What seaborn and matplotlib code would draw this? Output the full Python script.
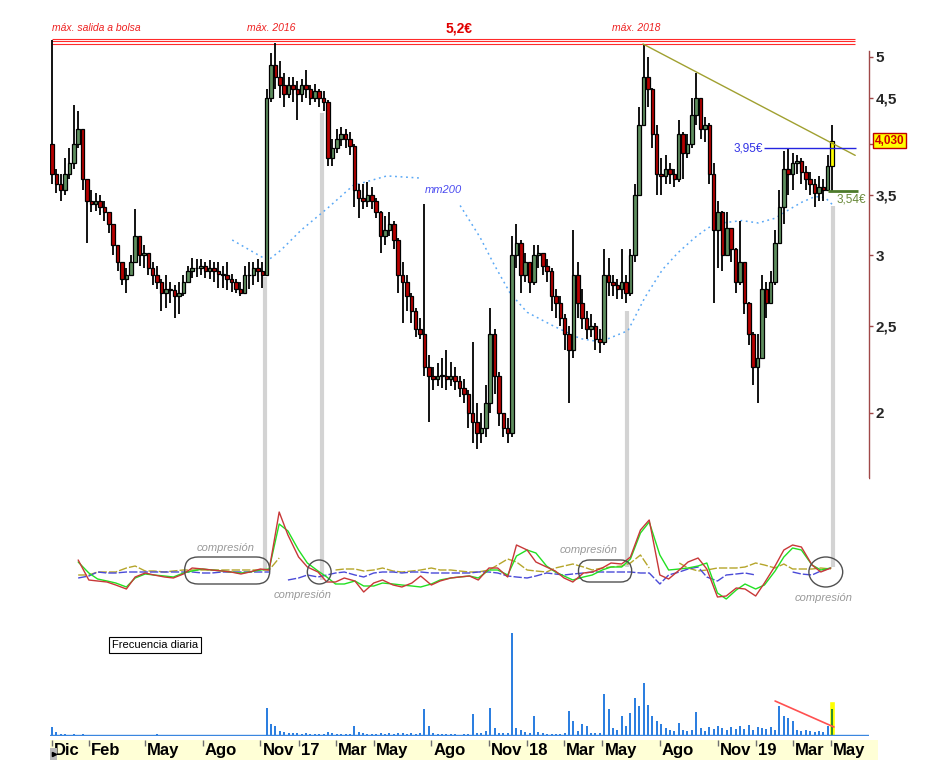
import numpy as np
import pandas as pd
import matplotlib
matplotlib.use("Agg")
import matplotlib.pyplot as plt
import matplotlib.dates as mdates
import matplotlib.transforms as mtransforms
from matplotlib.patches import FancyBboxPatch, Ellipse, Rectangle
from matplotlib.ticker import FixedLocator, FixedFormatter, NullLocator, NullFormatter
import seaborn as sns

sns.set_theme(style="white")
plt.rcParams["font.family"] = ["Liberation Sans", "DejaVu Sans"]

# ---- weekly prices ----
weeks = pd.date_range("2015-12-04", "2019-05-03", freq="W-FRI")
first_open = 4.00
close = [
    3.70, 3.60, 3.55, 3.70, 3.80, 4.00, 4.15, 3.65, 3.45, 3.42,
    3.45, 3.40, 3.35, 3.25, 3.08, 2.95, 2.82, 2.85, 2.95, 3.15,
    3.00, 3.02, 2.90, 2.85, 2.80, 2.72, 2.75, 2.74, 2.70, 2.72,
    2.80, 2.88, 2.90, 2.90, 2.92, 2.88, 2.90, 2.88, 2.86, 2.85,
    2.82, 2.80, 2.75, 2.72, 2.85, 2.85, 2.90, 2.88, 2.85, 4.50,
    4.90, 4.75, 4.65, 4.55, 4.65, 4.60, 4.55, 4.65, 4.60, 4.50,
    4.58, 4.50, 4.45, 3.85, 3.95, 4.05, 4.10, 4.05, 3.98, 3.55,
    3.48, 3.45, 3.50, 3.45, 3.35, 3.15, 3.20, 3.25, 3.12, 2.85,
    2.80, 2.70, 2.60, 2.48, 2.45, 2.25, 2.20, 2.18, 2.20, 2.20,
    2.18, 2.20, 2.17, 2.13, 2.10, 2.00, 1.95, 1.90, 1.92, 2.05,
    2.45, 2.20, 2.00, 1.92, 1.90, 3.00, 3.10, 2.85, 2.95, 2.80,
    3.00, 3.02, 2.92, 2.88, 2.70, 2.65, 2.55, 2.45, 2.35, 2.85,
    2.65, 2.55, 2.48, 2.50, 2.42, 2.40, 2.85, 2.80, 2.78, 2.75,
    2.80, 2.72, 3.00, 3.50, 4.20, 4.75, 4.60, 4.10, 3.70, 3.68,
    3.75, 3.70, 3.65, 4.10, 3.90, 4.00, 4.30, 4.50, 4.15, 4.20,
    3.70, 3.20, 3.35, 3.00, 3.22, 3.05, 2.80, 2.95, 2.65, 2.45,
    2.25, 2.30, 2.75, 2.65, 2.80, 3.10, 3.40, 3.75, 3.70, 3.80,
    3.82, 3.72, 3.65, 3.60, 3.52, 3.58, 3.55, 3.78, 4.03,
]
high = [
    5.22, 3.75, 3.70, 3.85, 3.95, 4.42, 4.35, 4.10, 3.65, 3.55,
    3.52, 3.50, 3.45, 3.35, 3.20, 3.08, 2.95, 2.90, 3.00, 3.38,
    3.10, 3.08, 3.00, 2.95, 2.92, 2.82, 2.85, 2.80, 2.78, 2.80,
    2.85, 2.92, 2.98, 2.97, 2.97, 2.95, 2.96, 2.95, 2.95, 2.92,
    2.95, 2.86, 2.82, 2.80, 2.92, 2.95, 2.95, 2.97, 2.95, 4.60,
    5.05, 5.18, 4.95, 4.80, 4.75, 4.75, 4.70, 4.72, 4.84, 4.65,
    4.66, 4.60, 4.58, 4.48, 4.05, 4.15, 4.17, 4.15, 4.12, 4.00,
    3.60, 3.60, 3.62, 3.58, 3.48, 3.36, 3.32, 3.35, 3.28, 3.14,
    2.95, 2.85, 2.72, 2.62, 2.55, 3.42, 2.32, 2.25, 2.27, 2.30,
    2.35, 2.28, 2.25, 2.20, 2.18, 2.12, 2.40, 2.05, 2.00, 2.15,
    2.62, 2.48, 2.22, 2.00, 1.97, 3.15, 3.25, 3.12, 3.02, 2.95,
    3.08, 3.08, 3.00, 2.97, 2.90, 2.75, 2.70, 2.58, 2.50, 3.20,
    2.95, 2.75, 2.60, 2.58, 2.52, 2.48, 3.05, 2.98, 2.85, 2.82,
    3.05, 2.85, 3.05, 3.60, 4.40, 5.15, 5.00, 4.62, 4.20, 3.85,
    3.88, 3.80, 3.75, 4.25, 4.12, 4.10, 4.50, 4.80, 4.50, 4.28,
    4.22, 3.80, 3.45, 3.36, 3.35, 3.22, 3.06, 3.28, 2.95, 2.66,
    2.46, 2.45, 2.85, 2.80, 2.88, 3.20, 3.55, 3.92, 3.95, 3.90,
    3.88, 3.85, 3.78, 3.72, 3.65, 3.68, 3.65, 3.88, 4.20,
]
low = [
    3.60, 3.52, 3.45, 3.50, 3.65, 3.75, 3.95, 3.55, 3.10, 3.35,
    3.36, 3.33, 3.28, 3.18, 3.00, 2.88, 2.78, 2.72, 2.85, 2.95,
    2.92, 2.90, 2.85, 2.78, 2.75, 2.60, 2.62, 2.65, 2.55, 2.58,
    2.70, 2.80, 2.83, 2.84, 2.85, 2.83, 2.82, 2.80, 2.76, 2.76,
    2.74, 2.73, 2.72, 2.70, 2.72, 2.75, 2.78, 2.80, 2.76, 2.85,
    4.45, 4.60, 4.50, 4.40, 4.50, 4.45, 4.25, 4.45, 4.50, 4.42,
    4.45, 4.40, 4.35, 3.78, 3.78, 3.90, 3.98, 3.95, 3.88, 3.40,
    3.30, 3.38, 3.40, 3.38, 3.30, 3.02, 3.08, 3.15, 3.05, 2.72,
    2.52, 2.60, 2.52, 2.43, 2.42, 2.20, 1.95, 2.12, 2.14, 2.13,
    2.12, 2.14, 2.12, 2.08, 2.05, 1.92, 1.85, 1.82, 1.85, 1.88,
    2.00, 2.10, 1.93, 1.88, 1.85, 1.88, 2.90, 2.72, 2.80, 2.72,
    2.78, 2.90, 2.85, 2.80, 2.60, 2.55, 2.50, 2.35, 2.05, 2.30,
    2.55, 2.48, 2.42, 2.43, 2.35, 2.33, 2.38, 2.70, 2.70, 2.68,
    2.68, 2.65, 2.70, 2.95, 3.50, 4.20, 4.40, 3.95, 3.50, 3.50,
    3.60, 3.60, 3.58, 3.62, 3.65, 3.85, 3.95, 4.20, 4.05, 4.02,
    3.60, 2.65, 2.90, 2.88, 3.00, 2.95, 2.72, 2.78, 2.58, 2.38,
    2.15, 2.05, 2.30, 2.55, 2.65, 2.78, 3.10, 3.25, 3.50, 3.55,
    3.70, 3.60, 3.55, 3.50, 3.40, 3.45, 3.45, 3.55, 3.54,
]
volume = [
    9, 4, 2, 2, 1, 2, 1, 2, 1, 1,
    1, 1, 1, 1, 1, 1, 1, 1, 1, 1,
    1, 1, 1, 1, 2, 1, 1, 1, 1, 1,
    1, 1, 1, 1, 1, 1, 1, 1, 1, 1,
    1, 1, 1, 1, 1, 1, 1, 1, 1, 28,
    12, 10, 5, 4, 3, 3, 3, 2, 3, 2,
    2, 2, 2, 4, 3, 2, 2, 2, 2, 10,
    4, 3, 2, 2, 2, 3, 2, 3, 2, 3,
    3, 2, 3, 2, 3, 27, 10, 3, 2, 2,
    2, 2, 2, 1, 2, 2, 22, 3, 3, 5,
    28, 8, 3, 3, 3, 103, 8, 6, 4, 3,
    20, 4, 3, 2, 2, 2, 2, 3, 25, 15,
    5, 12, 10, 3, 3, 3, 42, 27, 8, 6,
    20, 10, 23, 38, 30, 53, 31, 20, 15, 12,
    8, 6, 5, 13, 6, 5, 6, 24, 8, 5,
    9, 7, 10, 8, 6, 9, 7, 10, 7, 11,
    6, 9, 8, 7, 9, 6, 30, 20, 18, 15,
    6, 5, 6, 5, 4, 5, 4, 10, 27,
]

# ---- 200 session moving average ----
mm200_dates = ["2016-09-17", "2016-10-15", "2016-11-13", "2016-12-04", "2017-01-05",
               "2017-02-17", "2017-03-29", "2017-05-22", "2017-07-14", "2017-08-15",
               "2017-09-16", "2017-10-18", "2017-11-08", "2017-12-05", "2018-01-01",
               "2018-02-12", "2018-03-27", "2018-04-28", "2018-06-11", "2018-07-08",
               "2018-08-05", "2018-08-30", "2018-09-26", "2018-10-17", "2018-11-08",
               "2018-12-10", "2019-01-05", "2019-02-01", "2019-02-22", "2019-03-16",
               "2019-04-06", "2019-04-22", "2019-05-05"]
mm200 = [3.12, 3.04, 2.96, 3.04, 3.20, 3.39, 3.59, 3.68, 3.66, np.nan,
         3.41, 3.14, 2.94, 2.72, 2.59, 2.50, 2.42, 2.40, 2.47, 2.69,
         2.89, 3.02, 3.14, 3.22, 3.26, 3.28, 3.26, 3.30, 3.37, 3.44,
         3.49, 3.48, 3.41]

# ---- oscillator panel (half-monthly samples) ----
osc_dates = pd.date_range("2016-01-15", "2019-05-01", freq="SMS")
osc_red = [15, -5, -6, -7, -10, -14, -2, 2, 0, -2,
           -3, 1, 7, 6, 5, 4, 3, 1, 3, 6,
           5, 63, 40, 18, 8, 3, -7, -7, -3, -6,
           -17, -8, -5, -10, -12, -8, -1, -10, -6, -3,
           -2, -1, -5, 7, 7, -2, 30, 25, 13, 8,
           4, -3, -7, 2, 3, 7, 12, 11, 18, 45,
           55, 0, -4, 5, 13, 17, 6, -22, -21, -13,
           -14, -21, -8, 9, 25, 30, 28, 10, 3, 7]
osc_green = [13, 2, -4, -6, -8, -12, -3, 1, 0, -1,
             -2, 2, 4, 6, 5, 4, 3, 2, 3, 5,
             6, 51, 44, 25, 12, 4, -2, -9, -9, -6,
             -11, -11, -8, -9, -10, -11, -12, -9, -5, -3,
             -2, -1, -3, 5, 5, 0, 19, 25, 22, 9,
             3, -1, -5, -2, 0, 5, 8, 8, 16, 42,
             53, 20, 5, 6, 7, 9, 12, -18, -24, -15,
             -9, -14, -10, 4, 18, 27, 25, 10, 5, 7]
osc_blue = [-3, -1, 3, 2, 2, 3, 3, 3, 3, 3,
            3, 3, 3, 2, 2, 3, 3, 3, 3, 3,
            3, np.nan, -5, -3, 0, -2, 0, 2, 3, 0,
            -2, 2, 3, 3, 2, 3, 3, 2, 2, 2,
            2, 2, 3, 3, 2, -1, -2, -3, -1, 2,
            1, 0, 1, 2, 3, 3, 3, 3, 3, 2,
            2, -9, 0, 3, 6, 8, -2, -6, 0, 1,
            2, 0, np.nan, np.nan, np.nan, 3, 1, 0, 4, 7]
osc_olive = [0, 0, 3, 3, 3, 7, 9, 4, 4, 3,
             4, 5, 5, 5, 5, 5, 5, 5, 5, 5,
             5, 17, np.nan, np.nan, np.nan, np.nan, np.nan, 5, 6, 6,
             4, 5, 7, 4, 3, 4, 5, 7, 5, 5,
             4, 3, 3, 5, 10, 16, 13, 5, 4, 3,
             7, 9, 11, 8, 5, 7, 8, 9, 12, 20,
             7, np.nan, np.nan, 12, 7, 4, 5, 7, 7, 7,
             8, 12, 10, 7, 11, 6, 6, 6, 7, 6]

# ---- annotations ----
max_levels = [5.24, 5.205, 5.17]
trend_dates = ["2018-07-05", "2019-06-09"]
trend_vals = [5.17, 3.88]
res_level, res_span = 3.95, ["2019-01-15", "2019-06-11"]
sup_level, sup_span = 3.54, ["2019-04-27", "2019-06-14"]
last_price = 4.03
vline_dates = ["2016-11-09", "2017-02-08", "2018-06-10", "2019-05-04"]
vline_top = [2.84, 4.33, 2.60, 3.41]
vline_bottom = [5, -5, 8, 8]
vol_trend_dates = ["2019-02-01", "2019-05-06"]
vol_trend_vals = [35, 9]
month_ticks = ["2015-12-04", "2016-02-01", "2016-05-01", "2016-08-01", "2016-11-01",
               "2017-01-01", "2017-03-01", "2017-05-01", "2017-08-01", "2017-11-01",
               "2018-01-01", "2018-03-01", "2018-05-01", "2018-08-01", "2018-11-01",
               "2019-01-01", "2019-03-01", "2019-05-01"]
month_labels = ["Dic", "Feb", "May", "Ago", "Nov", "17", "Mar", "May", "Ago", "Nov",
                "18", "Mar", "May", "Ago", "Nov", "19", "Mar", "May"]
price_ticks = [2, 2.5, 3, 3.5, 4, 4.5, 5]
price_tick_labels = ["2", "2,5", "3", "3,5", "", "4,5", "5"]


def dn(d):
    return mdates.date2num(pd.to_datetime(d))


xw = mdates.date2num(weeks)
opens = [first_open] + close[:-1]

W, H = 932, 776
fig = plt.figure(figsize=(W / 100, H / 100), dpi=100)
fig.patch.set_facecolor("white")


def rect(x0, y0, x1, y1):
    return [x0 / W, 1 - y1 / H, (x1 - x0) / W, (y1 - y0) / H]


ax_p = fig.add_axes(rect(50, 38, 869, 478))
ax_i = fig.add_axes(rect(50, 478, 869, 620))
ax_v = fig.add_axes(rect(50, 625, 869, 736))
ax_s = fig.add_axes(rect(50, 740, 878, 760))

xmin, xmax = dn("2015-12-01"), dn("2019-07-01")
for ax in (ax_p, ax_i, ax_v):
    ax.set_xlim(xmin, xmax)
    ax.set_facecolor("white")
    ax.grid(False)
ax_s.set_xlim(xmin, dn("2019-07-15"))


def seg_line(ax, xs, ys, **kw):
    s = pd.Series(ys, index=xs, dtype=float)
    ok = s.notna()
    grp = (~ok).cumsum()
    for _, part in s[ok].groupby(grp[ok]):
        if len(part) > 1:
            sns.lineplot(x=part.index.values, y=part.values, ax=ax, **kw)


# ---------- price panel ----------
ax_p.set_yscale("log")
ax_p.set_ylim(1.69, 5.25)

ax_p.vlines([dn(d) for d in vline_dates], 1.69, vline_top, color="#d3d3d3", lw=3, zorder=1)

ax_p.hlines(max_levels, xw[0], dn("2019-06-09"), color="#ff2a2a", lw=0.8, zorder=2)

seg_line(ax_p, [dn(d) for d in mm200_dates], mm200, color="#5aa8f5", lw=1.1,
         linestyle=(0, (1.2, 2.4)), zorder=2)

ax_p.plot([dn(d) for d in trend_dates], trend_vals, color="#a0a030", lw=1, zorder=5)
ax_p.hlines(res_level, dn(res_span[0]), dn(res_span[1]), color="#2424e0", lw=1, zorder=5)
ax_p.hlines(sup_level, dn(sup_span[0]), dn(sup_span[1]), color="#4d7a2c", lw=2, zorder=5)

bottoms = [min(o, c) for o, c in zip(opens, close)]
heights = [max(abs(c - o), 0.004) for o, c in zip(opens, close)]
body_col = ["#5f8f5f" if c >= o else "#b80000" for o, c in zip(opens, close)]
body_col[-1] = "#ffff00"
ax_p.vlines(xw, low, high, color="black", lw=1.3, zorder=3)
ax_p.bar(xw, heights, bottom=bottoms, width=5.6, color=body_col,
         edgecolor="black", linewidth=0.9, zorder=4)

ax_p.yaxis.tick_right()
ax_p.yaxis.set_major_locator(FixedLocator(price_ticks))
ax_p.yaxis.set_major_formatter(FixedFormatter(price_tick_labels))
ax_p.yaxis.set_minor_locator(NullLocator())
ax_p.yaxis.set_minor_formatter(NullFormatter())
ax_p.tick_params(axis="y", which="major", direction="out", length=3, width=1,
                 color="#a04848", labelsize=11, pad=2, right=True, left=False)
for lab in ax_p.get_yticklabels():
    lab.set_fontweight("bold")
ax_p.set_xticks([])
ax_p.set_xlabel("")
ax_p.set_ylabel("")
for side in ("top", "left", "bottom"):
    ax_p.spines[side].set_visible(False)
ax_p.spines["right"].set_color("#a04848")
ax_p.spines["right"].set_linewidth(1)
ax_p.spines["right"].set_bounds(1.69, 5.08)

top_tr = mtransforms.blended_transform_factory(ax_p.transData, ax_p.transAxes)
ax_p.text(xw[0], 1.0227, "máx. salida a bolsa", transform=top_tr, color="#ee2222",
          fontsize=7.5, style="italic", ha="left", va="center", clip_on=False)
ax_p.text(dn("2016-10-11"), 1.0227, "máx. 2016", transform=top_tr, color="#ee2222",
          fontsize=7.5, style="italic", ha="left", va="center", clip_on=False)
ax_p.text(dn("2017-09-14"), 1.0227, "5,2€", transform=top_tr, color="#e00000",
          fontsize=10, fontweight="bold", ha="center", va="center", clip_on=False)
ax_p.text(dn("2018-05-17"), 1.0227, "máx. 2018", transform=top_tr, color="#ee2222",
          fontsize=7.5, style="italic", ha="left", va="center", clip_on=False)

ax_p.text(dn("2017-08-20"), 3.55, "mm200", color="#4a4af0", style="italic",
          fontsize=8, ha="center", va="center")
ax_p.text(dn("2019-01-13"), res_level, "3,95€", color="#3232e6", fontsize=8.5,
          ha="right", va="center")
ax_p.text(dn("2019-05-10"), 3.46, "3,54€", color="#6a8a3a", fontsize=8.5,
          ha="left", va="center")

lab_tr = mtransforms.blended_transform_factory(ax_p.transAxes, ax_p.transData)
ax_p.text(1.007, last_price, "4,030", transform=lab_tr, color="#d00000", fontsize=8.5,
          fontweight="bold", ha="left", va="center", clip_on=False,
          bbox=dict(boxstyle="square,pad=0.12", fc="#ffff00", ec="#c00000", lw=1))

# ---------- oscillator panel ----------
ax_i.set_ylim(-45, 97)
osc_x = mdates.date2num(osc_dates)
ax_i.vlines([dn(d) for d in vline_dates], vline_bottom, 97, color="#d3d3d3", lw=3, zorder=1)
seg_line(ax_i, osc_x, osc_olive, color="#b5a52a", lw=1, linestyle=(0, (6, 1.5)), zorder=2)
seg_line(ax_i, osc_x, osc_blue, color="#4a4ad8", lw=1, linestyle=(0, (6, 1.5)), zorder=2)
seg_line(ax_i, osc_x, osc_green, color="#22e022", lw=1, zorder=3)
seg_line(ax_i, osc_x, osc_red, color="#c83838", lw=1, zorder=3)

pills = [("2016-07-03", "2016-11-16", -9, 18), ("2018-03-24", "2018-06-17", -7, 15)]
for a, b, y0, y1 in pills:
    hgt = y1 - y0
    ax_i.add_patch(FancyBboxPatch((dn(a), y0), dn(b) - dn(a), hgt,
                                  boxstyle="round,pad=0,rounding_size=%.2f" % (hgt / 2 / 0.626),
                                  mutation_aspect=0.626, fc="none", ec="#505050", lw=1, zorder=4))
circles = [("2017-02-03", 3, 38, 24), ("2019-04-23", 3, 54, 30)]
for c, yc, wd, ht in circles:
    ax_i.add_patch(Ellipse((dn(c), yc), wd, ht, fc="none", ec="#505050", lw=1, zorder=4))
comp_text = [("2016-09-07", 27), ("2017-01-07", -20), ("2018-04-10", 25), ("2019-04-20", -23)]
for d, yv in comp_text:
    ax_i.text(dn(d), yv, "compresión", color="#999999", style="italic", fontsize=8,
              ha="center", va="center")

# ---------- volume panel ----------
ax_v.set_ylim(0, 111)
vol_col = ["#2d7fe0"] * (len(volume) - 1) + ["#2f8f2f"]
ax_v.bar(xw[-1], 35, width=10, color="#ffff00", zorder=1)
ax_v.bar(xw, volume, width=3.2, color=vol_col, linewidth=0, zorder=2)
ax_v.axhline(0.6, color="#3a86e0", lw=1, zorder=2)
ax_v.plot([dn(d) for d in vol_trend_dates], vol_trend_vals, color="#ff5050", lw=1.2, zorder=3)
ax_v.text((112 - 50) / 819, (736 - 645) / 111, "Frecuencia diaria", transform=ax_v.transAxes,
          fontsize=8, ha="left", va="center", color="black",
          bbox=dict(boxstyle="square,pad=0.25", fc="white", ec="black", lw=0.8))

for ax in (ax_i, ax_v):
    ax.set_xticks([])
    ax.set_yticks([])
    ax.set_xlabel("")
    ax.set_ylabel("")
    for sp in ax.spines.values():
        sp.set_visible(False)

# ---------- month strip ----------
ax_s.set_facecolor("#ffffd6")
ax_s.set_ylim(0, 1)
ax_s.set_xticks([])
ax_s.set_yticks([])
for sp in ax_s.spines.values():
    sp.set_visible(False)
shift = mtransforms.offset_copy(ax_s.transData, fig=fig, x=2, y=0, units="dots")
for d, lab in zip(month_ticks, month_labels):
    ax_s.vlines(dn(d), 0.7, 1.0, color="#707070", lw=1)
    ax_s.text(dn(d), 0.86, lab, transform=shift, ha="left", va="top", fontsize=12,
              fontweight="bold", color="black", clip_on=True)
ax_s.add_patch(Rectangle((0, 0), 7 / 828, 0.6, transform=ax_s.transAxes,
                         fc="#b8b8b8", ec="none", zorder=3))
ax_s.plot([3.5 / 828], [0.3], marker=">", color="black", ms=3,
          transform=ax_s.transAxes, zorder=4)

fig.savefig("out.png", dpi=100, facecolor="white")
